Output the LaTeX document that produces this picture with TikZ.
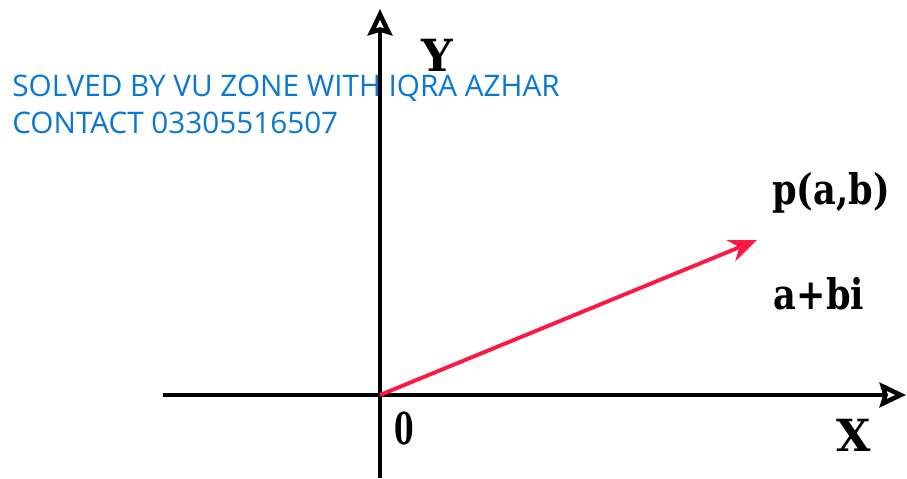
\documentclass[tikz,border=0pt]{standalone}
\usepackage{xcolor}
\usepackage{fontspec}
\setmainfont{Liberation Serif}
\newfontfamily\notefont{Open Sans}
\newfontfamily\labelfont{DejaVu Serif}
\usepackage{tikz}
\usetikzlibrary{arrows.meta,positioning}
\definecolor{noteblue}{HTML}{0A78D2}
\definecolor{vecred}{HTML}{FF1744}

\begin{document}
\begin{tikzpicture}[
			x=0.02cm, y=-0.02cm,
			axis/.style={line width=2.6pt, -{Stealth[open, length=15pt, width=14pt, line width=2.6pt, inset=2pt]}},
			vec/.style={line width=2.2pt, vecred, -{Stealth[length=16pt, width=13pt]}},
			lbl/.style={font=\labelfont\bfseries\fontsize{20}{22}\selectfont, inner sep=0pt, yscale=1.2},
			axlbl/.style={lbl, font=\labelfont\bfseries\fontsize{21}{23}\selectfont, xscale=1.2, yscale=1},
			note/.style={font=\notefont\fontsize{16.9}{19}\selectfont, text=noteblue, anchor=base west, inner sep=0pt}
			]
			\useasboundingbox (0,0) rectangle (907,479);
			\coordinate (o) at (380,395);
			\coordinate (xend) at (906,395);
			\coordinate (xstart) at (163,395);
			\coordinate (yend) at (380,9);
			\coordinate (ystart) at (380,478);
			\coordinate (ptip) at (757,240);
			
			\draw[axis] (xstart) -- (xend);
			\draw[axis] (ystart) -- (yend);
			\draw[vec] (o) -- (ptip);
			
			\node[axlbl] (ylbl) at (437,55) {Y};
			\node[axlbl] (xlbl) at (854,435) {X};
			\node[lbl, font=\labelfont\bfseries\fontsize{16}{18}\selectfont, yscale=1.3] (olbl) at (404,429) {0};
			\node[lbl] (plbl) at (831,193) {p(a,b)};
			\node[lbl] (zlbl) at (819,294) {a+bi};
			
			\node[note] (note1) at (12,97) {SOLVED BY VU ZONE WITH IQRA AZHAR};
			\node[note] (note2) at (12,134) {CONTACT 03305516507};
		\end{tikzpicture}
\end{document}
